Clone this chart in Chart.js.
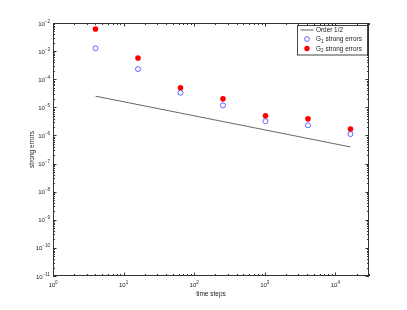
<!DOCTYPE html>
<html><head><meta charset="utf-8">
<script src="https://cdn.jsdelivr.net/npm/chart.js@4"></script>
<style>html,body{margin:0;padding:0;background:#fff;}#wrap{width:407px;height:310px;}</style>
</head><body><div id="wrap"><canvas id="c" width="407" height="310"></canvas></div>
<script>
const timeSteps = [4, 16, 64, 256, 1024, 4096, 16384];
const g1Errors = [1.26e-3, 2.3e-4, 3.3e-5, 1.17e-5, 3.2e-6, 2.3e-6, 1.12e-6];
const g2Errors = [6.1e-3, 5.7e-4, 5.0e-5, 2.0e-5, 5.0e-6, 3.9e-6, 1.7e-6];
const orderHalf = [2.5e-5, 1.25e-5, 6.25e-6, 3.125e-6, 1.5625e-6, 7.8e-7, 3.9e-7];
const xTickExps = [0, 1, 2, 3, 4];
const yTickExps = [-2, -3, -4, -5, -6, -7, -8, -9, -10, -11];
const legendLabels = [["Order 1/2", ""], ["G", "1", " strong errors"], ["G", "2", " strong errors"]];
const xLabel = "time steps";
const yLabel = "strong errors";

const FONT = "Liberation Sans, Arial, sans-serif";
const AX = "#333";

const mk = (ys) => timeSteps.map((x, i) => ({x: x, y: ys[i]}));

const framePlugin = {
  id: 'frame',
  afterDraw(chart) {
    const ctx = chart.ctx, a = chart.chartArea;
    const xs = chart.scales.x, ys = chart.scales.y;
    ctx.save();
    ctx.strokeStyle = AX; ctx.lineWidth = 1;
    ctx.strokeRect(a.left + 0.5, a.top + 0.5, a.right - a.left - 1, a.bottom - a.top - 1);
    ctx.beginPath();
    for (let e = 0; e <= 4; e++) {
      for (let m = 1; m <= 9; m++) {
        const v = m * Math.pow(10, e);
        if (v > 30000) break;
        const px = Math.round(xs.getPixelForValue(v)) + 0.5;
        const L = m === 1 ? 3.5 : 2;
        ctx.moveTo(px, a.bottom); ctx.lineTo(px, a.bottom - L);
        ctx.moveTo(px, a.top); ctx.lineTo(px, a.top + L);
      }
    }
    for (let e = -11; e <= -2; e++) {
      for (let m = 1; m <= 9; m++) {
        const v = m * Math.pow(10, e);
        if (e === -2 && m > 1) break;
        const py = Math.round(ys.getPixelForValue(v)) + 0.5;
        const L = m === 1 ? 3.5 : 2;
        ctx.moveTo(a.left, py); ctx.lineTo(a.left + L, py);
        ctx.moveTo(a.right, py); ctx.lineTo(a.right - L, py);
      }
    }
    ctx.stroke();
    ctx.fillStyle = "#222";
    ctx.textBaseline = "alphabetic";
    xTickExps.forEach(e => {
      const px = xs.getPixelForValue(Math.pow(10, e));
      ctx.font = "6px " + FONT;
      const w1 = ctx.measureText("10").width;
      ctx.font = "4.5px " + FONT;
      const w2 = ctx.measureText(String(e)).width;
      const x0 = px - (w1 + w2) / 2;
      ctx.font = "6px " + FONT; ctx.textAlign = "left";
      ctx.fillText("10", x0, a.bottom + 11);
      ctx.font = "4.5px " + FONT;
      ctx.fillText(String(e), x0 + w1, a.bottom + 8);
    });
    yTickExps.forEach(e => {
      const py = ys.getPixelForValue(Math.pow(10, e));
      const sup = String(e).replace('-', '\u2212');
      ctx.font = "4.5px " + FONT;
      const w2 = ctx.measureText(sup).width;
      ctx.font = "6px " + FONT;
      const w1 = ctx.measureText("10").width;
      const xr = a.left - 3;
      ctx.textAlign = "left";
      ctx.fillText("10", xr - w1 - w2, py + 2.5);
      ctx.font = "4.5px " + FONT;
      ctx.fillText(sup, xr - w2, py - 0.5);
    });
    ctx.font = "6.5px " + FONT; ctx.textAlign = "center";
    ctx.fillText(xLabel, (a.left + a.right) / 2, a.bottom + 20);
    ctx.save();
    ctx.translate(34, (a.top + a.bottom) / 2);
    ctx.rotate(-Math.PI / 2);
    ctx.fillText(yLabel, 0, 0);
    ctx.restore();
    // legend
    const lx = 297.5, ly = 25.5, lw = 70, lh = 29.5;
    ctx.fillStyle = "#fff";
    ctx.fillRect(lx, ly, lw, lh);
    ctx.strokeStyle = "#444"; ctx.lineWidth = 1;
    ctx.strokeRect(lx, ly, lw, lh);
    const rows = [ly + 4.5, ly + 13.5, ly + 23];
    ctx.strokeStyle = "#666"; ctx.lineWidth = 1;
    ctx.beginPath(); ctx.moveTo(lx + 3, rows[0]); ctx.lineTo(lx + 16, rows[0]); ctx.stroke();
    ctx.strokeStyle = "#4040ff"; ctx.lineWidth = 0.8;
    ctx.beginPath(); ctx.arc(lx + 9.5, rows[1], 2.4, 0, Math.PI * 2); ctx.stroke();
    ctx.fillStyle = "#ff0000";
    ctx.beginPath(); ctx.arc(lx + 9.5, rows[2], 2.7, 0, Math.PI * 2); ctx.fill();
    ctx.fillStyle = "#222"; ctx.textAlign = "left";
    legendLabels.forEach((lab, i) => {
      const ty = rows[i] + 2.2;
      let tx = lx + 18.5;
      ctx.font = "6.4px " + FONT;
      ctx.fillText(lab[0], tx, ty);
      tx += ctx.measureText(lab[0]).width;
      if (lab[1]) {
        ctx.font = "4.6px " + FONT;
        ctx.fillText(lab[1], tx, ty + 1.5);
        tx += ctx.measureText(lab[1]).width + 0.3;
        ctx.font = "6.4px " + FONT;
        ctx.fillText(lab[2], tx, ty);
      }
    });
    ctx.restore();
  }
};

new Chart(document.getElementById('c'), {
  type: 'scatter',
  data: {
    datasets: [
      {label: 'Order 1/2', data: mk(orderHalf), showLine: true, borderColor: '#666', borderWidth: 1, pointRadius: 0, fill: false},
      {label: 'G1 strong errors', data: mk(g1Errors), showLine: false, pointRadius: 2.5, pointBorderColor: '#4040ff', pointBackgroundColor: 'rgba(0,0,0,0)', pointBorderWidth: 0.8},
      {label: 'G2 strong errors', data: mk(g2Errors), showLine: false, pointRadius: 2.8, pointBorderColor: '#ff0000', pointBackgroundColor: '#ff0000', pointBorderWidth: 0}
    ]
  },
  options: {
    responsive: false, animation: false, devicePixelRatio: 1,
    layout: {padding: {left: 53, top: 23, right: 38, bottom: 34}},
    plugins: {legend: {display: false}, tooltip: {enabled: false}},
    scales: {
      x: {type: 'logarithmic', min: 1, max: 30000, display: false},
      y: {type: 'logarithmic', min: 1e-11, max: 1e-2, display: false}
    }
  },
  plugins: [framePlugin]
});
</script></body></html>
